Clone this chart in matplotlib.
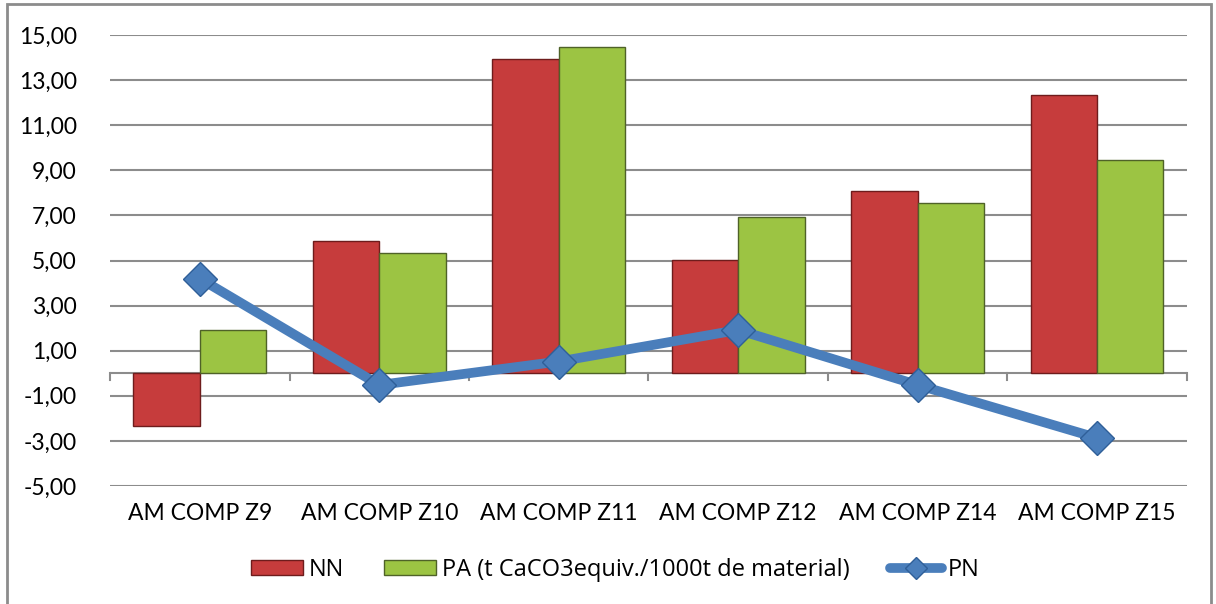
import matplotlib
matplotlib.use("Agg")
import matplotlib.pyplot as plt
from matplotlib.lines import Line2D
from matplotlib.patches import Rectangle
import numpy as np

# values per sample (t CaCO3 equiv./1000 t)
samples = ["AM COMP Z9", "AM COMP Z10", "AM COMP Z11", "AM COMP Z12", "AM COMP Z14", "AM COMP Z15"]
nn = [-2.33, 5.87, 13.93, 5.02, 8.08, 12.33]
pa = [1.92, 5.33, 14.47, 6.93, 7.55, 9.45]
pn = [4.2, -0.52, 0.52, 1.92, -0.52, -2.87]

yticks = [-5, -3, -1, 1, 3, 5, 7, 9, 11, 13, 15]

plt.rcParams["font.family"] = ["Lato", "DejaVu Sans"]

fig = plt.figure(figsize=(12.16, 6.04), dpi=100)
ax = fig.add_axes([0.0905, 0.1954, 0.8855, 0.7466])

x = np.arange(len(samples))
w = 0.37
b_nn = ax.bar(x - w / 2, nn, w, color="#C63C3C", edgecolor="#6E1C1C", linewidth=1.0,
              label="NN", zorder=2)
b_pa = ax.bar(x + w / 2, pa, w, color="#9CC443", edgecolor="#4F6228", linewidth=1.0,
              label="PA (t CaCO3equiv./1000t de material)", zorder=2)
ax.plot(x, pn, color="#4A7EBB", lw=7, marker="D", ms=17, mfc="#4A7EBB",
        mec="#2F5F98", mew=1.0, zorder=3, solid_capstyle="round")

ax.set_xlim(-0.5, len(samples) - 0.5)
ax.set_ylim(-5, 15)
ax.set_yticks(yticks)
ax.set_yticklabels([f"{v:.2f}".replace(".", ",") for v in yticks])
ax.yaxis.grid(True, color="#8C8C8C", lw=1.5, zorder=0)
ax.tick_params(axis="y", length=0, labelsize=16.5, pad=24)

# category axis sits at zero, ticks between categories
ax.axhline(0, color="#8C8C8C", lw=1.5, zorder=1)
ax.set_xticks([])
for b in np.arange(-0.5, len(samples), 1.0):
    ax.plot([b, b], [0, -0.3], color="#8C8C8C", lw=1.5, zorder=1, clip_on=False)
for xi, s in zip(x, samples):
    ax.text(xi, -6.2, s, ha="center", va="center", fontsize=16.5)

for sp in ax.spines.values():
    sp.set_visible(False)

# smaller diamond for the legend entry
pn_key = Line2D([], [], color="#4A7EBB", lw=7, marker="D", ms=11, mfc="#4A7EBB",
                mec="#2F5F98", mew=1.0, solid_capstyle="round")
ax.legend([b_nn, b_pa, pn_key], [b_nn.get_label(), b_pa.get_label(), "PN"],
          loc="center", bbox_to_anchor=(0.506, 0.056), bbox_transform=fig.transFigure,
          ncol=3, frameon=False, handlelength=2.2, handleheight=0.6,
          handletextpad=0.25, columnspacing=1.7,
          prop={"family": ["Open Sans", "Lato"], "size": 17})

fig.add_artist(Rectangle((0.006, -0.01), 0.99, 1.003, transform=fig.transFigure,
                         fill=False, edgecolor="#8C8C8C", lw=2))

fig.savefig("out.png", dpi=100)
